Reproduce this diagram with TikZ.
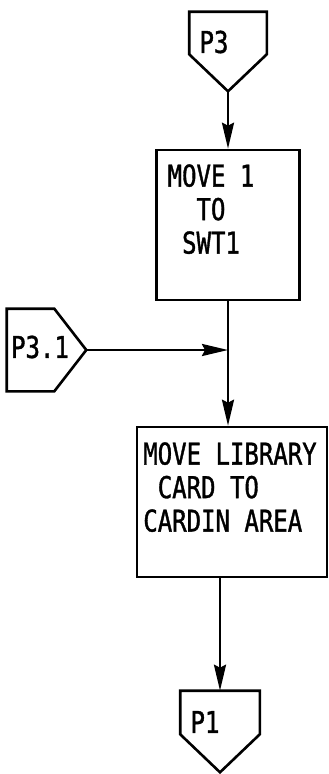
\documentclass[tikz,border=0pt]{standalone}
\usepackage{fontspec}
\newfontfamily\flowfont[FakeStretch=0.8,FakeBold=1.2]{DejaVu Sans Mono}
\usetikzlibrary{calc,arrows.meta}

\begin{document}
\begin{tikzpicture}[x=1pt,y=-1pt,line width=2.6pt,
  procbox/.style={draw,rectangle,inner sep=0pt},
  conbox/.style={rectangle,inner sep=0pt},
  boxtext/.style={inner sep=0pt,font=\flowfont\fontsize{30}{33.5}\selectfont},
  flow/.style={-{Stealth[length=26pt,width=12pt,inset=3pt]}}]
  \useasboundingbox (0,0) rectangle (329,774);
  % entry connector
  \node[conbox,minimum width=75,minimum height=40] (p3) at (228,33) {};
  \coordinate (p3tip) at ($(p3.south)+(0,37)$);
  \draw (p3.south west) -- (p3.north west) -- (p3.north east) -- (p3.south east) -- (p3tip) -- cycle;
  \node[boxtext] (p3txt) at (214,42) {P3};
  % first box
  \node[procbox,minimum width=143,minimum height=150] (move1) at (228,225) {};
  \node[boxtext,align=center,anchor=north] (move1txt) at (211,163) {MOVE 1\\TO\\SWT1};
  % side entry
  \node[conbox,minimum width=45,minimum height=80] (p31) at (30.5,350) {};
  \coordinate (p31tip) at ($(p31.east)+(32,0)$);
  \draw (p31.north east) -- (p31.north west) -- (p31.south west) -- (p31.south east) -- (p31tip) -- cycle;
  \node[boxtext] (p31txt) at (40,347) {P3.1};
  % second box
  \node[procbox,minimum width=190,minimum height=150] (card) at (232,502) {};
  \node[boxtext,align=left,anchor=north west] (cardtxt) at (142,441) {MOVE LIBRARY\\\ CARD TO\\CARDIN AREA};
  % exit connector
  \node[conbox,minimum width=77,minimum height=41] (p1) at (220,712.5) {};
  \coordinate (p1tip) at ($(p1.south)+(0,38)$);
  \draw (p1.south west) -- (p1.north west) -- (p1.north east) -- (p1.south east) -- (p1tip) -- cycle;
  \node[boxtext] (p1txt) at (205,722) {P1};
  % connectors
  \draw[flow] (p3tip) -- (move1.north);
  \draw[flow] (move1.south) -- (move1.south |- card.north);
  \draw[flow] (p31tip) -- (p31tip -| move1.south);
  \draw[flow] (card.south -| p1.north) -- (p1.north);
\end{tikzpicture}
\end{document}
